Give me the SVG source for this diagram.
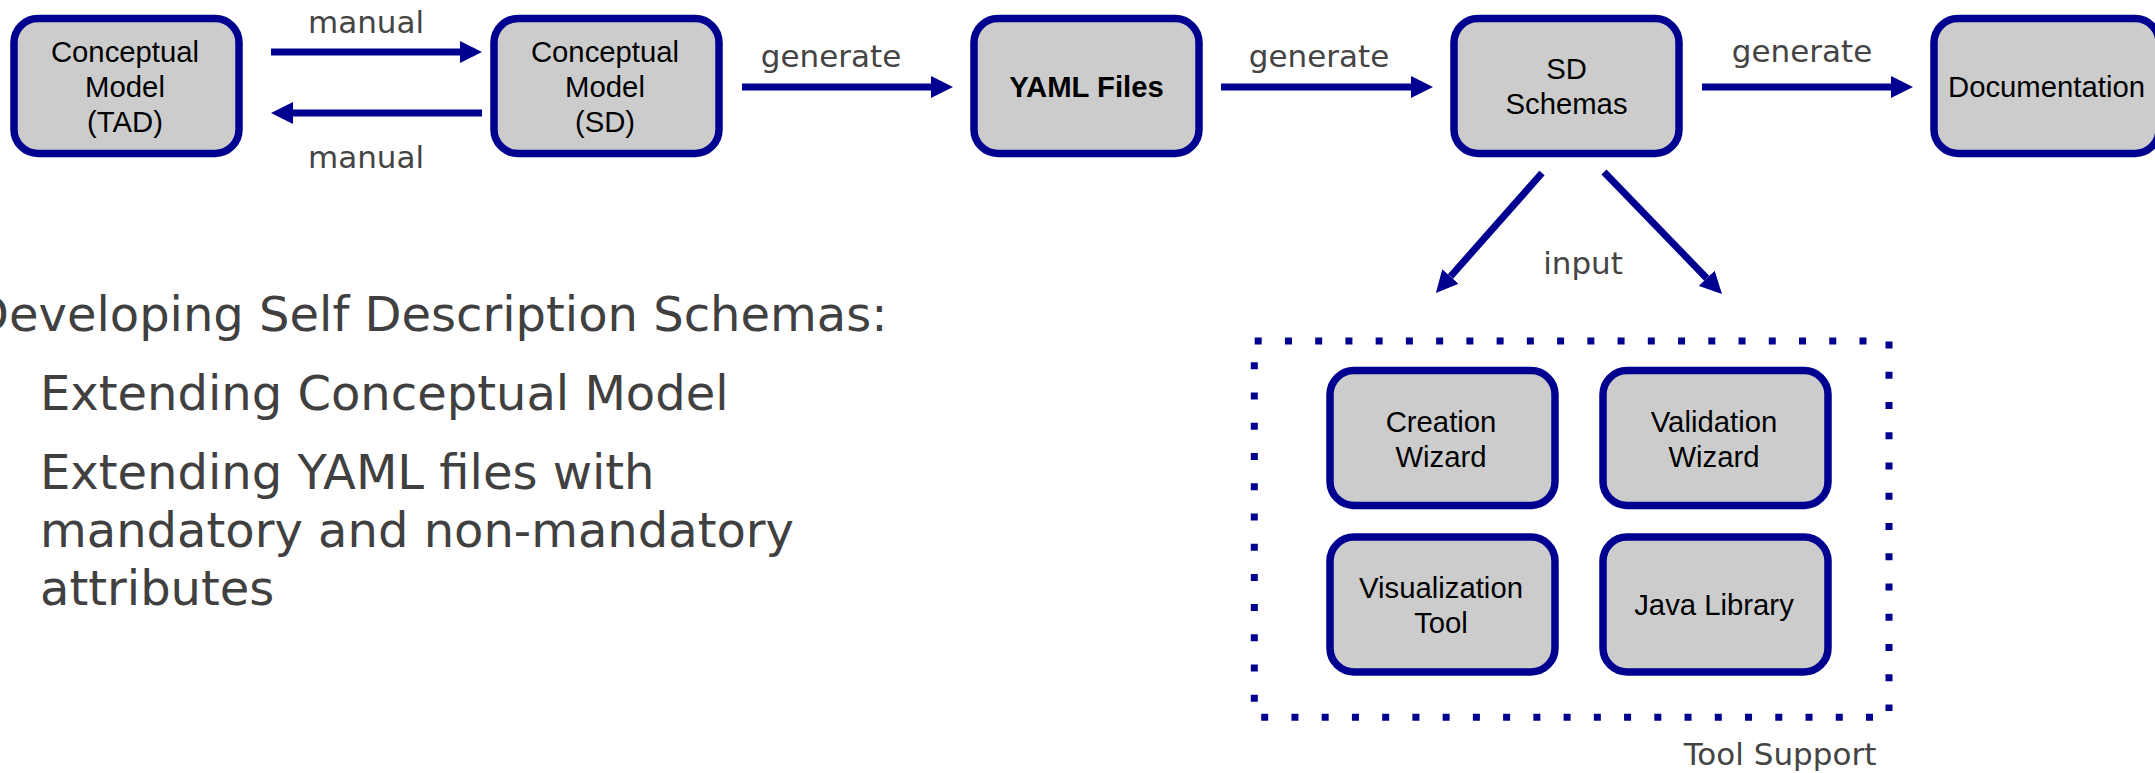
<svg xmlns="http://www.w3.org/2000/svg" width="2155" height="773" viewBox="0 0 2155 773">
<style>
.box{fill:#cccccc;stroke:#000090;stroke-width:7.5}
.bt{font-family:"Liberation Sans",Arial,sans-serif;font-size:29.3px;fill:#000;text-anchor:middle}
.lbl{font-family:"DejaVu Sans",sans-serif;font-size:31px;fill:#444444;text-anchor:middle}
.big{font-family:"DejaVu Sans",sans-serif;font-size:48px;fill:#404040}
.con{stroke:#000090;stroke-width:7;fill:none;marker-end:url(#ah)}
.dot{stroke:#000090;stroke-width:7;stroke-dasharray:7 23.24;fill:none}
</style>
<defs>
<marker id="ah" viewBox="0 0 22 22" refX="0" refY="11" markerWidth="22" markerHeight="22" markerUnits="userSpaceOnUse" orient="auto">
<path d="M0,0 L22,11 L0,22 z" fill="#000090"/>
</marker>
</defs>
<rect width="2155" height="773" fill="#ffffff"/>

<g id="connectors">
<line class="con" x1="271" y1="52" x2="460" y2="52"/>
<line class="con" x1="482" y1="113" x2="293" y2="113"/>
<line class="con" x1="742" y1="87" x2="931" y2="87"/>
<line class="con" x1="1221" y1="87" x2="1411" y2="87"/>
<line class="con" x1="1702" y1="87" x2="1891" y2="87"/>
<line class="con" x1="1542" y1="173" x2="1450.5" y2="276.5"/>
<line class="con" x1="1604" y1="172" x2="1706.7" y2="278.2"/>
</g>

<g id="edge-labels">
<text class="lbl" x="366" y="33">manual</text>
<text class="lbl" x="366" y="168">manual</text>
<text class="lbl" x="831" y="67">generate</text>
<text class="lbl" x="1319" y="67">generate</text>
<text class="lbl" x="1802" y="62">generate</text>
<text class="lbl" x="1583" y="274">input</text>
</g>

<g id="node-tad">
<rect class="box" x="14" y="18.5" width="225" height="135" rx="24"/>
<text class="bt"><tspan x="125" y="62">Conceptual</tspan><tspan x="125" y="97">Model</tspan><tspan x="125" y="132">(TAD)</tspan></text>
</g>
<g id="node-sd">
<rect class="box" x="494" y="18.5" width="225" height="135" rx="24"/>
<text class="bt"><tspan x="605" y="62">Conceptual</tspan><tspan x="605" y="97">Model</tspan><tspan x="605" y="132">(SD)</tspan></text>
</g>
<g id="node-yaml">
<rect class="box" x="974" y="18.5" width="225" height="135" rx="24"/>
<text class="bt" x="1086.5" y="97" font-weight="bold">YAML Files</text>
</g>
<g id="node-schemas">
<rect class="box" x="1454" y="18.5" width="225" height="135" rx="24"/>
<text class="bt"><tspan x="1566.5" y="79">SD</tspan><tspan x="1566.5" y="114">Schemas</tspan></text>
</g>
<g id="node-doc">
<rect class="box" x="1934" y="18.5" width="225" height="135" rx="24"/>
<text class="bt" x="2046.5" y="97">Documentation</text>
</g>

<g id="tool-support">
<line class="dot" x1="1254.7" y1="341" x2="1870" y2="341"/>
<line class="dot" x1="1889" y1="341.5" x2="1889" y2="711"/>
<line class="dot" x1="1261.2" y1="717.3" x2="1873" y2="717.3"/>
<line class="dot" x1="1254.3" y1="362.2" x2="1254.3" y2="702"/>
<text class="lbl" x="1780" y="765">Tool Support</text>
</g>
<g id="node-creation">
<rect class="box" x="1330" y="370.5" width="225" height="135" rx="24"/>
<text class="bt"><tspan x="1441" y="432">Creation</tspan><tspan x="1441" y="467">Wizard</tspan></text>
</g>
<g id="node-validation">
<rect class="box" x="1603" y="370.5" width="225" height="135" rx="24"/>
<text class="bt"><tspan x="1714" y="432">Validation</tspan><tspan x="1714" y="467">Wizard</tspan></text>
</g>
<g id="node-visualization">
<rect class="box" x="1330" y="537" width="225" height="135" rx="24"/>
<text class="bt"><tspan x="1441" y="598">Visualization</tspan><tspan x="1441" y="633">Tool</tspan></text>
</g>
<g id="node-java">
<rect class="box" x="1603" y="537" width="225" height="135" rx="24"/>
<text class="bt" x="1714" y="615">Java Library</text>
</g>

<g id="notes">
<text class="big" x="-28" y="331">Developing Self Description Schemas:</text>
<text class="big" x="40" y="410">Extending Conceptual Model</text>
<text class="big"><tspan x="40" y="489">Extending YAML files with</tspan><tspan x="40" y="547">mandatory and non-mandatory</tspan><tspan x="40" y="605">attributes</tspan></text>
</g>
</svg>
